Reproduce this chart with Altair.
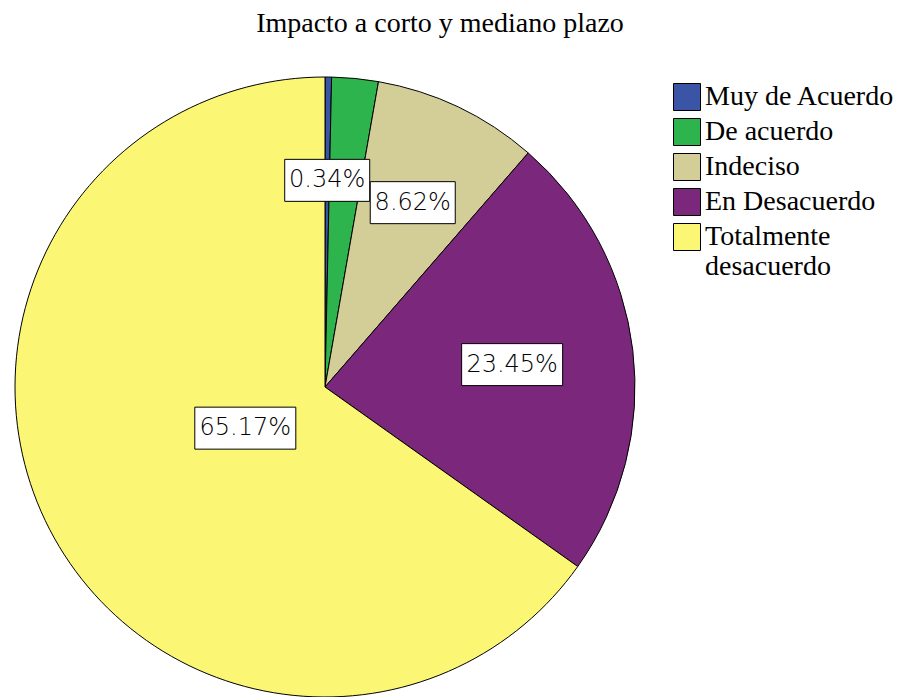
import altair as alt
import pandas as pd

# ---- data ----
categories = ["Muy de Acuerdo", "De acuerdo", "Indeciso", "En Desacuerdo", "Totalmente desacuerdo"]
values = [0.34, 2.42, 8.62, 23.45, 65.17]
labels = ["0.34%", "", "8.62%", "23.45%", "65.17%"]
colors = ["#3a55a6", "#2eb44c", "#d3cd98", "#7b277b", "#fbf674"]
title_text = ["Impacto a corto y mediano plazo"]

df = pd.DataFrame({"cat": categories, "value": values, "label": labels, "idx": list(range(len(categories)))})

# ---- layout ----
W, H = 891, 689
CX, CY = 317, 379
R = 310

arc = alt.Chart(df).mark_arc(outerRadius=R, stroke="black", strokeWidth=1).encode(
    theta=alt.Theta("value:Q", stack=True),
    color=alt.Color(
        "cat:N",
        sort=categories,
        scale=alt.Scale(domain=categories, range=colors),
        legend=alt.Legend(
            title=None,
            orient="none",
            legendX=665,
            legendY=75,
            symbolType="square",
            symbolSize=729,
            symbolStrokeColor="black",
            symbolStrokeWidth=1,
            symbolOpacity=1,
            labelFont="Liberation Serif",
            labelFontSize=28,
            labelColor="black",
            labelOffset=4,
            rowPadding=3,
            labelLimit=400,
            labelExpr="length(datum.label) > 16 ? split(datum.label, ' ') : datum.label",
        ),
    ),
    order=alt.Order("idx:Q"),
    x=alt.value(CX),
    y=alt.value(CY),
)

# label placed at the centroid of each slice
lab = (
    alt.Chart(df)
    .transform_window(cum="sum(value)", sort=[alt.SortField("idx")])
    .transform_joinaggregate(total="sum(value)")
    .transform_calculate(
        mid="(datum.cum - datum.value/2)/datum.total*2*PI",
        ang="datum.value/datum.total*2*PI",
        w="16*length(datum.label)+5",
    )
    .transform_calculate(rr=f"2*{R}*sin(datum.ang/2)/(1.5*datum.ang)")
    .transform_calculate(
        lx="datum.rr*sin(datum.mid)",
        ly="datum.rr*cos(datum.mid)",
    )
    .transform_calculate(
        x1="datum.lx - datum.w/2",
        x2="datum.lx + datum.w/2",
        y1="datum.ly - 21",
        y2="datum.ly + 21",
    )
    .transform_filter("datum.label != ''")
)

xs = alt.Scale(domain=[-CX, W - CX], nice=False, zero=False)
ys = alt.Scale(domain=[-(H - CY), CY], nice=False, zero=False)

box = lab.mark_rect(fill="white", stroke="black", strokeWidth=1).encode(
    x=alt.X("x1:Q", scale=xs, axis=None),
    x2="x2:Q",
    y=alt.Y("y1:Q", scale=ys, axis=None),
    y2="y2:Q",
)

txt = lab.mark_text(font="DejaVu Sans", fontSize=24, color="black", fontWeight=200).encode(
    x=alt.X("lx:Q", scale=xs, axis=None),
    y=alt.Y("ly:Q", scale=ys, axis=None),
    text="label:N",
)

title = alt.Chart(pd.DataFrame({"t": title_text})).mark_text(
    font="Liberation Serif", fontSize=28, color="black", baseline="alphabetic", align="center"
).encode(text="t:N", x=alt.value(432), y=alt.value(24))

chart = (
    alt.layer(arc, box, txt, title)
    .properties(width=W, height=H, autosize=alt.AutoSizeParams(type="none"), padding=0, background="white")
    .configure_view(stroke=None)
)

chart.save("out.html", embed_options={"renderer": "svg", "actions": False})
